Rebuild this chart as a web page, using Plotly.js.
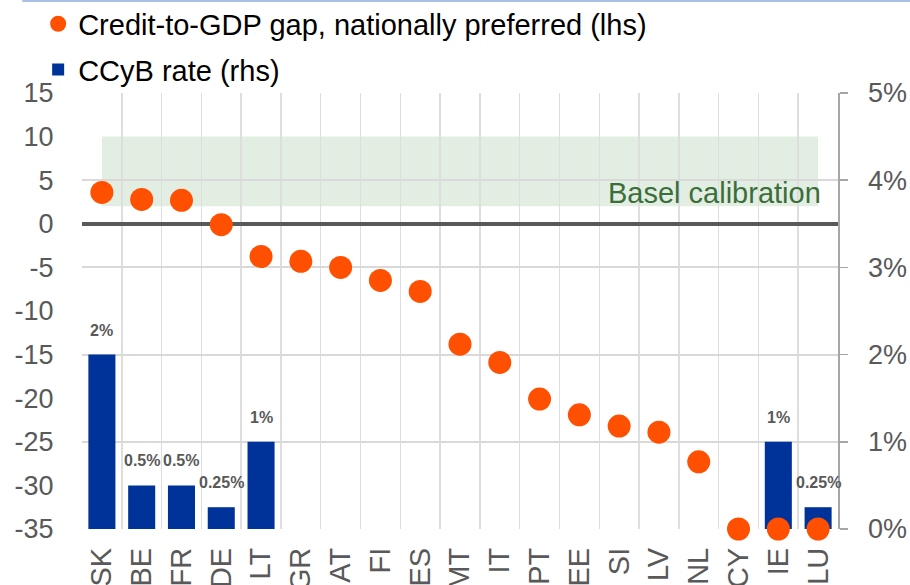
<!DOCTYPE html>
<html>
<head>
<meta charset="utf-8">
<script src="https://cdn.plot.ly/plotly-3.0.1.min.js"></script>
<style>html,body{margin:0;padding:0;background:#fff;}#chart{width:910px;height:585px;}</style>
</head>
<body>
<div id="chart"></div>
<script>
// ---- data ----
const countries = ['SK','BE','FR','DE','LT','GR','AT','FI','ES','MT','IT','PT','EE','SI','LV','NL','CY','IE','LU'];
const creditGap = [3.6, 2.8, 2.7, -0.1, -3.75, -4.3, -5.0, -6.5, -7.75, -13.8, -15.9, -20.1, -21.9, -23.2, -23.9, -27.3, -35, -35, -35];
const ccybRate = [2, 0.5, 0.5, 0.25, 1, 0, 0, 0, 0, 0, 0, 0, 0, 0, 0, 0, 0, 1, 0.25];
const baselBand = [2, 10];
const baselLabel = 'Basel calibration';
const gapName = 'Credit-to-GDP gap, nationally preferred (lhs)';
const rateName = 'CCyB rate (rhs)';
const leftTicks = [15, 10, 5, 0, -5, -10, -15, -20, -25, -30, -35];
const leftTickText = ['15', '10', '5', '0', '-5', '-10', '-15', '-20', '-25', '-30', '-35'];
const rightTicks = [0, 1, 2, 3, 4, 5];
const rightTickText = ['0%', '1%', '2%', '3%', '4%', '5%'];

const grey = '#595959';
const gridC = '#d9d9d9';
const fam = 'Liberation Sans, Arial, sans-serif';

const traces = [
  {
    type: 'scatter', mode: 'markers', name: gapName, legendgroup: 'a',
    x: countries, y: creditGap, xaxis: 'x', yaxis: 'y2',
    marker: {color: '#ff4f00', size: 23},
    cliponaxis: false, hoverinfo: 'skip'
  },
  {
    type: 'bar', name: rateName, legendgroup: 'b',
    x: countries, y: ccybRate, xaxis: 'x', yaxis: 'y',
    marker: {color: '#003399'}, hoverinfo: 'skip'
  }
];

const annotations = ccybRate.map((v, i) => v > 0 ? {
  x: countries[i], y: v, xref: 'x', yref: 'y', text: '<b>' + v + '%</b>',
  showarrow: false, yanchor: 'bottom', yshift: 14,
  font: {family: fam, size: 16, color: grey}
} : null).filter(a => a);

annotations.push({
  x: countries.length - 1, y: (baselBand[0] + baselBand[1]) / 2 - 2.5, xref: 'x', yref: 'y2',
  text: baselLabel, showarrow: false, xanchor: 'right', yanchor: 'middle', xshift: 5,
  font: {family: fam, size: 29, color: '#3b6e3b'}
});

const layout = {
  width: 910, height: 585,
  margin: {l: 82, r: 72, t: 93, b: 56, autoexpand: false},
  paper_bgcolor: '#fff', plot_bgcolor: '#fff',
  font: {family: fam, color: grey},
  showlegend: true,
  legend: {
    x: -0.058, xanchor: 'left', y: 1.217, yanchor: 'top',
    font: {size: 29, color: '#000'}, tracegroupgap: 5,
    bgcolor: 'rgba(0,0,0,0)'
  },
  bargap: 0.32,
  xaxis: {
    type: 'category', categoryorder: 'array', categoryarray: countries,
    range: [-0.5, countries.length - 0.5],
    tickson: 'boundaries', ticks: '', showgrid: true, gridcolor: '#dedede', gridwidth: 1.5,
    tickangle: -90, tickfont: {size: 29, color: grey}, ticklabelstandoff: 12,
    showline: false, zeroline: false, automargin: false
  },
  yaxis: {
    side: 'right', range: [0, 5], tickmode: 'array', tickvals: rightTicks, ticktext: rightTickText,
    showgrid: true, gridcolor: gridC, gridwidth: 2,
    showline: true, linecolor: '#a6a6a6', linewidth: 1.5,
    ticks: 'outside', ticklen: 8, tickcolor: '#a6a6a6', tickwidth: 1.5,
    tickfont: {size: 27, color: grey}, ticklabelstandoff: 15,
    zeroline: false, automargin: false
  },
  yaxis2: {
    overlaying: 'y', side: 'left', range: [-35, 15], tickmode: 'array', tickvals: leftTicks, ticktext: leftTickText,
    showgrid: false, zeroline: true, zerolinecolor: grey, zerolinewidth: 4,
    ticks: 'outside', ticklen: 22, tickcolor: 'rgba(0,0,0,0)',
    tickfont: {size: 27, color: grey}, showline: false, automargin: false
  },
  shapes: [
    {type: 'rect', layer: 'below', xref: 'x', yref: 'y2',
     x0: 0, x1: countries.length - 1, y0: baselBand[0], y1: baselBand[1],
     fillcolor: '#e2eee2', line: {width: 0}},
    {type: 'line', xref: 'paper', yref: 'paper', x0: -0.079, x1: 1.1, y0: 1.211, y1: 1.211,
     line: {color: '#8eaadb', width: 1.5}}
  ],
  annotations: annotations
};

Plotly.newPlot('chart', traces, layout, {displayModeBar: false, staticPlot: true});
</script>
</body>
</html>
